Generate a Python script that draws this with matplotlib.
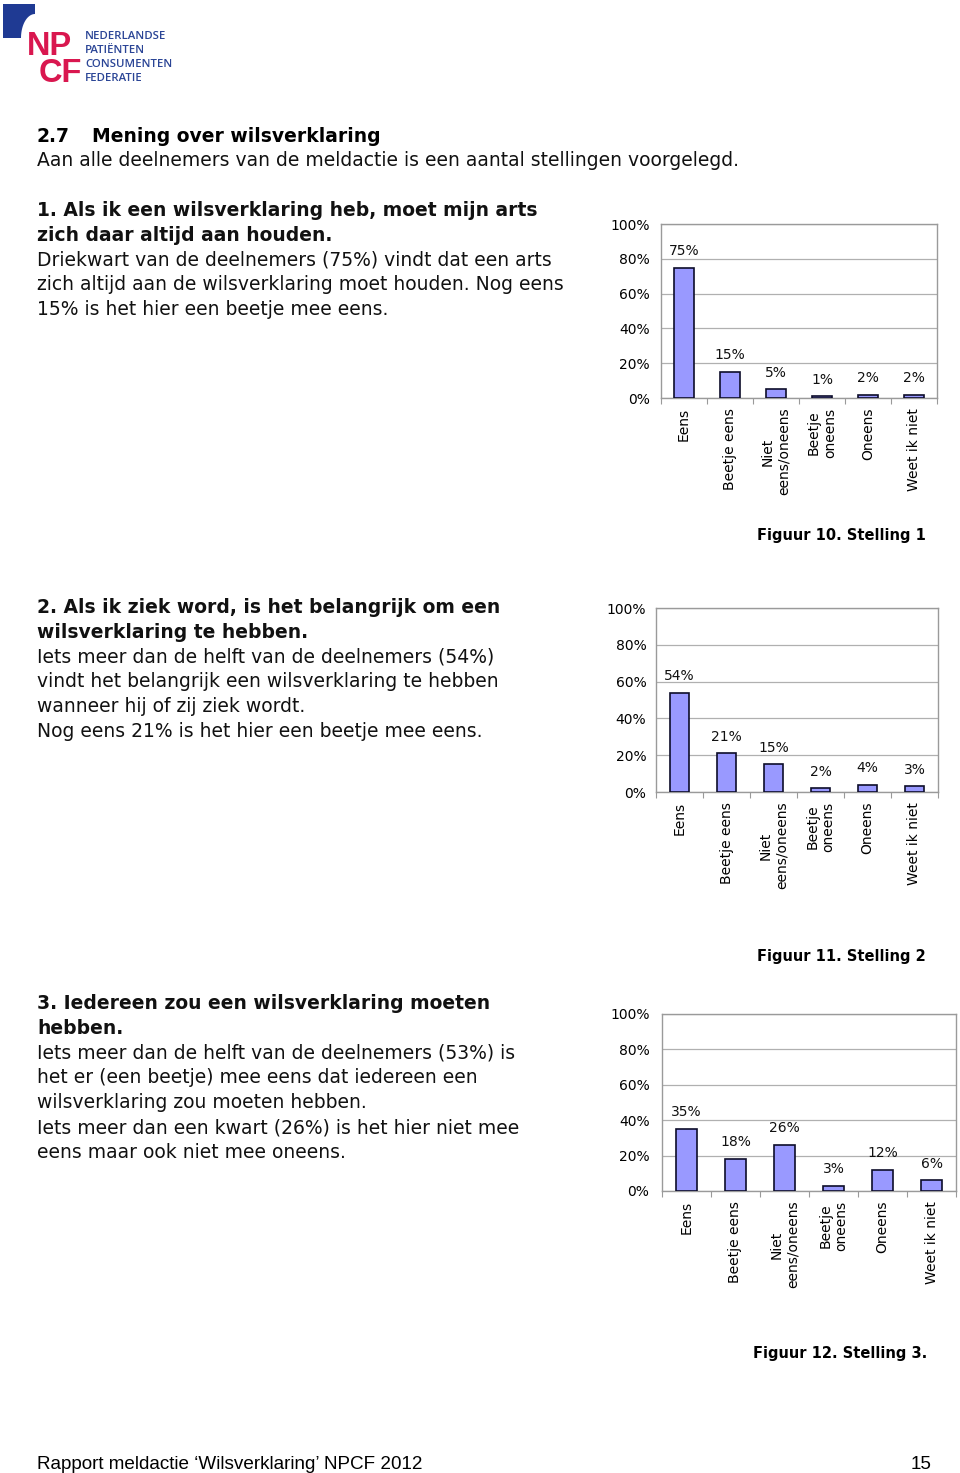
import numpy as np
import matplotlib
matplotlib.use("Agg")
import matplotlib.pyplot as plt
from matplotlib.patches import Polygon

# data
categories = ["Eens", "Beetje eens", "Niet\neens/oneens", "Beetje\noneens", "Oneens", "Weet ik niet"]
stelling1 = [75, 15, 5, 1, 2, 2]
stelling2 = [54, 21, 15, 2, 4, 3]
stelling3 = [35, 18, 26, 3, 12, 6]
yticks = [0, 20, 40, 60, 80, 100]

intro = ["Aan alle deelnemers van de meldactie is een aantal stellingen voorgelegd."]
kop1 = ["1. Als ik een wilsverklaring heb, moet mijn arts", "zich daar altijd aan houden."]
tekst1 = ["Driekwart van de deelnemers (75%) vindt dat een arts",
          "zich altijd aan de wilsverklaring moet houden. Nog eens",
          "15% is het hier een beetje mee eens."]
kop2 = ["2. Als ik ziek word, is het belangrijk om een", "wilsverklaring te hebben."]
tekst2 = ["Iets meer dan de helft van de deelnemers (54%)",
          "vindt het belangrijk een wilsverklaring te hebben",
          "wanneer hij of zij ziek wordt.",
          "Nog eens 21% is het hier een beetje mee eens."]
kop3 = ["3. Iedereen zou een wilsverklaring moeten", "hebben."]
tekst3 = ["Iets meer dan de helft van de deelnemers (53%) is",
          "het er (een beetje) mee eens dat iedereen een",
          "wilsverklaring zou moeten hebben.",
          "Iets meer dan een kwart (26%) is het hier niet mee",
          "eens maar ook niet mee oneens."]

W, H = 960, 1473
BODY = ["DejaVu Sans"]
FS = 13.5
GRAY = "#9a9a9a"
BAR = "#9999ff"

fig = plt.figure(figsize=(W / 100, H / 100), dpi=100)
bg = fig.add_axes([0, 0, 1, 1])
bg.set_xlim(0, W)
bg.set_ylim(H, 0)
bg.axis("off")

# logo
t = np.linspace(1.5 * np.pi, np.pi, 30)
arc = np.column_stack([35 + 14 * np.cos(t), 38 + 24 * np.sin(t)])
pts = np.vstack([[[3, 4], [35, 4]], arc, [[3, 38]]])
bg.add_patch(Polygon(pts, closed=True, color="#1f3a93", lw=0))
red = "#d9174f"
bg.text(27, 55, "NP", color=red, fontsize=23.5, fontweight="heavy",
        family=["Liberation Sans"], va="baseline")
bg.text(39, 82, "CF", color=red, fontsize=23.5, fontweight="heavy",
        family=["Liberation Sans"], va="baseline")
for i, s in enumerate(["NEDERLANDSE", "PATIËNTEN", "CONSUMENTEN", "FEDERATIE"]):
    bg.text(85, 39 + 14 * i, s, color="#2b4596", fontsize=8.2, fontweight="semibold",
            family=["Open Sans", "DejaVu Sans"], va="baseline")


def lines(x, y0, rows, bold=False, step=24.8):
    for i, s in enumerate(rows):
        bg.text(x, y0 + i * step, s, fontsize=FS, family=BODY, va="baseline",
                fontweight="bold" if bold else "normal", color="#111111")


bg.text(37, 142, "2.7", fontsize=FS, family=BODY, fontweight="bold", va="baseline")
bg.text(92, 142, "Mening over wilsverklaring", fontsize=FS, family=BODY,
        fontweight="bold", va="baseline")
lines(37, 166, intro)
lines(37, 216, kop1, bold=True)
lines(37, 265.6, tekst1)
lines(37, 613, kop2, bold=True)
lines(37, 662.6, tekst2)
lines(37, 1009, kop3, bold=True)
lines(37, 1058.6, tekst3)

for y, s, x in [(540, "Figuur 10. Stelling 1", 926), (961, "Figuur 11. Stelling 2", 926),
                (1358, "Figuur 12. Stelling 3.", 927)]:
    bg.text(x, y, s, fontsize=10.5, family=BODY, fontweight="bold", ha="right", va="baseline")

bg.text(37, 1469, "Rapport meldactie \u2018Wilsverklaring\u2019 NPCF 2012", fontsize=13.6,
        family=["Liberation Sans"], va="baseline")
bg.text(932, 1469, "15", fontsize=13.6, family=["Liberation Sans"],
        ha="right", va="baseline")


def chart(box, values, pad):
    l, r, top, bot = box
    ax = fig.add_axes([l / W, 1 - bot / H, (r - l) / W, (bot - top) / H])
    x = np.arange(len(values))
    bars = ax.bar(x, values, width=0.42, color=BAR, edgecolor="#0d0d2a", lw=1.2, zorder=3)
    ax.bar_label(bars, labels=[f"{v}%" for v in values], padding=7, fontsize=10,
                 family=BODY, color="#111111")
    ax.set_xlim(-0.5, len(values) - 0.5)
    ax.set_ylim(0, 100)
    ax.set_yticks(yticks)
    ax.set_yticklabels([f"{v}%" for v in yticks], fontsize=10, family=BODY)
    ax.tick_params(axis="y", length=0, pad=pad)
    ax.set_xticks(x)
    ax.set_xticklabels(categories, rotation=90, fontsize=10, family=BODY,
                       multialignment="center", va="top", ha="center")
    ax.tick_params(axis="x", length=0, pad=7)
    ax.set_xticks(np.arange(-0.5, len(values)), minor=True)
    ax.tick_params(axis="x", which="minor", length=4, color=GRAY, width=0.8, direction="out")
    ax.grid(axis="y", color="#b0b0b0", lw=0.9, zorder=0)
    for sp in ax.spines.values():
        sp.set_color(GRAY)
        sp.set_linewidth(1.0)
    return ax


chart((661, 937, 224, 398), stelling1, 8)
chart((656, 938, 608, 792), stelling2, 7)
chart((662, 956, 1014, 1191), stelling3, 9)

fig.savefig("out.png", dpi=100)
